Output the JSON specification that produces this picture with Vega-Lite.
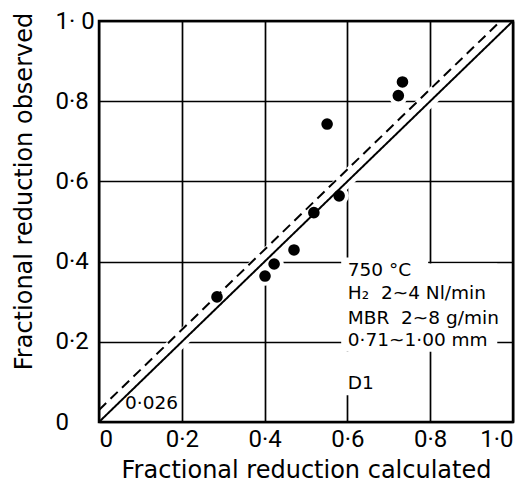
{
  "$schema": "https://vega.github.io/schema/vega-lite/v6.json",
  "width": 414,
  "height": 401,
  "autosize": {"type": "none"},
  "padding": {"left": 99, "top": 21, "right": 16, "bottom": 61},
  "background": "white",
  "config": {
    "view": {"stroke": "black", "strokeWidth": 2.5},
    "font": "DejaVu Sans",
    "axis": {
      "domain": false,
      "ticks": false,
      "grid": true,
      "gridColor": "black",
      "gridOpacity": 1,
      "gridWidth": 1.7,
      "labelColor": "black",
      "titleColor": "black",
      "labelFont": "Roboto",
      "titleFont": "DejaVu Sans",
      "labelFontSize": 24,
      "titleFontSize": 24,
      "titleFontWeight": "normal"
    }
  },
  "datasets": {
    "points": [
      {"calc": 0.285, "obs": 0.312},
      {"calc": 0.401, "obs": 0.364},
      {"calc": 0.423, "obs": 0.394},
      {"calc": 0.471, "obs": 0.429},
      {"calc": 0.519, "obs": 0.522},
      {"calc": 0.580, "obs": 0.564},
      {"calc": 0.551, "obs": 0.743},
      {"calc": 0.723, "obs": 0.814},
      {"calc": 0.733, "obs": 0.848}
    ],
    "lines": [
      {"series": "ideal", "calc": 0, "obs": 0},
      {"series": "ideal", "calc": 1, "obs": 1},
      {"series": "offset", "calc": 0, "obs": 0.03},
      {"series": "offset", "calc": 0.97, "obs": 1}
    ],
    "casing": [
      {"calc": 0.1, "obs": 0.108},
      {"calc": 0.9, "obs": 0.908}
    ],
    "boxes": [
      {"x1": 0.585, "x2": 0.795, "y1": 0.175, "y2": 0.41},
      {"x1": 0.795, "x2": 0.962, "y1": 0.175, "y2": 0.395},
      {"x1": 0.585, "x2": 0.66, "y1": 0.067, "y2": 0.175}
    ],
    "notes": [
      {"calc": 0.601, "obs": 0.379, "label": "750 °C"},
      {"calc": 0.601, "obs": 0.322, "label": "H₂\u00a0\u00a02~4 Nl/min"},
      {"calc": 0.601, "obs": 0.259, "label": "MBR\u00a0\u00a02~8 g/min"},
      {"calc": 0.601, "obs": 0.204, "label": "0·71~1·00 mm"},
      {"calc": 0.601, "obs": 0.097, "label": "D1"},
      {"calc": 0.063, "obs": 0.047, "label": "0·026"}
    ]
  },
  "layer": [
    {
      "data": {"name": "boxes"},
      "mark": {"type": "rect", "fill": "white"},
      "encoding": {
        "x": {"field": "x1", "type": "quantitative", "scale": {"domain": [0, 1]},
          "axis": {"values": [0, 0.2, 0.4, 0.6, 0.8, 1.0], "title": "Fractional reduction calculated",
            "labelPadding": 5, "titleY": 55, "titleBaseline": "alphabetic",
            "labelExpr": "datum.value == 0 ? '0' : replace(format(datum.value, '.1f'), '.', '·')"}},
        "x2": {"field": "x2"},
        "y": {"field": "y1", "type": "quantitative", "scale": {"domain": [0, 1]},
          "axis": {"values": [0, 0.2, 0.4, 0.6, 0.8, 1.0], "title": "Fractional reduction observed",
            "labelAlign": "left", "labelPadding": 44,
            "titleX": -75, "titleY": 170, "titleBaseline": "middle", "titleAngle": -90,
            "labelExpr": "datum.value == 0 ? '0' : datum.value == 1 ? '1· 0' : replace(format(datum.value, '.1f'), '.', '·')"}},
        "y2": {"field": "y2"}
      }
    },
    {
      "data": {"name": "casing"},
      "mark": {"type": "line", "color": "white", "strokeWidth": 16, "strokeCap": "butt"},
      "encoding": {
        "x": {"field": "calc", "type": "quantitative"},
        "y": {"field": "obs", "type": "quantitative"}
      }
    },
    {
      "data": {"name": "points"},
      "mark": {"type": "point", "shape": "circle", "filled": true, "color": "white", "opacity": 1, "size": 380},
      "encoding": {
        "x": {"field": "calc", "type": "quantitative"},
        "y": {"field": "obs", "type": "quantitative"}
      }
    },
    {
      "data": {"name": "lines"},
      "mark": {"type": "line", "color": "black", "strokeWidth": 2},
      "encoding": {
        "x": {"field": "calc", "type": "quantitative"},
        "y": {"field": "obs", "type": "quantitative"},
        "detail": {"field": "series"},
        "strokeDash": {"field": "series", "type": "nominal",
          "scale": {"domain": ["ideal", "offset"], "range": [[1, 0], [10, 6]]}, "legend": null}
      }
    },
    {
      "data": {"name": "points"},
      "mark": {"type": "point", "shape": "circle", "filled": true, "color": "black", "opacity": 1, "size": 135},
      "encoding": {
        "x": {"field": "calc", "type": "quantitative"},
        "y": {"field": "obs", "type": "quantitative"}
      }
    },
    {
      "data": {"name": "notes"},
      "mark": {"type": "text", "align": "left", "baseline": "middle", "fontSize": 18.5, "color": "black", "font": "DejaVu Sans"},
      "encoding": {
        "x": {"field": "calc", "type": "quantitative"},
        "y": {"field": "obs", "type": "quantitative"},
        "text": {"field": "label"}
      }
    }
  ]
}
